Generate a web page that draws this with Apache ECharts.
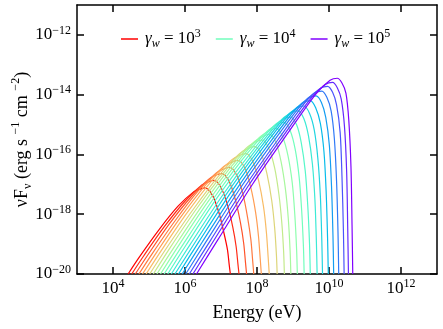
<!DOCTYPE html>
<html>
<head>
<meta charset="utf-8">
<script src="https://cdn.jsdelivr.net/npm/echarts@6/dist/echarts.min.js"></script>
<style>
html, body { margin: 0; padding: 0; background: #fff; }
#chart { width: 443px; height: 329px; }
</style>
</head>
<body>
<div id="chart"></div>
<script>
// spectra, as [log10 E(eV), log10 vFv] pairs, gamma_w from 1e3 (red) to 1e5 (violet)
var c01 = [[4.42,-20],[4.74,-19.42],[5.27,-18.53],[5.80,-17.74],[6.23,-17.26],[6.44,-17.15],[6.55,-17.12],[6.76,-17.36],[6.94,-17.94],[7.08,-18.62],[7.18,-19.19],[7.23,-19.71],[7.26,-20]];
var c02 = [[4.52,-20],[4.86,-19.38],[5.43,-18.41],[6.01,-17.55],[6.46,-17.03],[6.69,-16.90],[6.81,-16.87],[7.01,-17.13],[7.19,-17.73],[7.33,-18.45],[7.42,-19.08],[7.47,-19.66],[7.50,-20]];
var c03 = [[4.62,-20],[4.98,-19.34],[5.58,-18.30],[6.19,-17.39],[6.67,-16.82],[6.91,-16.67],[7.03,-16.64],[7.23,-16.91],[7.40,-17.52],[7.54,-18.28],[7.63,-18.97],[7.68,-19.61],[7.71,-20]];
var c04 = [[4.72,-20],[5.10,-19.30],[5.73,-18.21],[6.36,-17.23],[6.86,-16.63],[7.11,-16.47],[7.24,-16.43],[7.44,-16.70],[7.61,-17.33],[7.74,-18.12],[7.83,-18.85],[7.88,-19.56],[7.91,-20]];
var c05 = [[4.82,-20],[5.22,-19.26],[5.88,-18.10],[6.54,-17.07],[7.07,-16.41],[7.34,-16.24],[7.47,-16.20],[7.67,-16.48],[7.83,-17.12],[7.96,-17.93],[8.04,-18.72],[8.09,-19.50],[8.12,-20]];
var c06 = [[4.92,-20],[5.34,-19.22],[6.03,-18.00],[6.73,-16.90],[7.28,-16.20],[7.56,-16.01],[7.70,-15.97],[7.89,-16.25],[8.05,-16.90],[8.18,-17.74],[8.26,-18.59],[8.31,-19.44],[8.34,-20]];
var c07 = [[5.02,-20],[5.46,-19.18],[6.19,-17.90],[6.92,-16.74],[7.50,-15.99],[7.79,-15.78],[7.94,-15.74],[8.13,-16.02],[8.28,-16.67],[8.41,-17.55],[8.49,-18.45],[8.54,-19.37],[8.56,-20]];
var c08 = [[5.12,-20],[5.57,-19.15],[6.33,-17.80],[7.09,-16.59],[7.70,-15.79],[8.00,-15.56],[8.15,-15.52],[8.33,-15.80],[8.49,-16.45],[8.61,-17.35],[8.69,-18.30],[8.74,-19.26],[8.76,-20]];
var c09 = [[5.22,-20],[5.69,-19.12],[6.47,-17.72],[7.25,-16.46],[7.88,-15.62],[8.19,-15.38],[8.35,-15.33],[8.53,-15.61],[8.67,-16.25],[8.79,-17.16],[8.87,-18.16],[8.92,-19.24],[8.94,-20]];
var c10 = [[5.32,-20],[5.80,-19.09],[6.61,-17.63],[7.41,-16.33],[8.06,-15.44],[8.38,-15.18],[8.54,-15.13],[8.71,-15.41],[8.86,-16.04],[8.98,-16.96],[9.05,-18.01],[9.10,-19.17],[9.12,-20]];
var c11 = [[5.42,-20],[5.92,-19.06],[6.75,-17.55],[7.58,-16.19],[8.25,-15.26],[8.58,-14.98],[8.75,-14.93],[8.92,-15.20],[9.06,-15.82],[9.17,-16.75],[9.24,-17.86],[9.29,-19.09],[9.31,-20]];
var c12 = [[5.52,-20],[6.03,-19.03],[6.88,-17.47],[7.74,-16.08],[8.42,-15.10],[8.76,-14.80],[8.93,-14.75],[9.10,-15.01],[9.23,-15.61],[9.34,-16.55],[9.41,-17.71],[9.46,-19.02],[9.48,-20]];
var c13 = [[5.62,-20],[6.15,-19.00],[7.03,-17.39],[7.91,-15.94],[8.61,-14.92],[8.96,-14.59],[9.14,-14.54],[9.30,-14.80],[9.43,-15.38],[9.54,-16.33],[9.61,-17.54],[9.65,-18.94],[9.67,-20]];
var c14 = [[5.72,-20],[6.26,-18.98],[7.15,-17.33],[8.05,-15.84],[8.76,-14.78],[9.12,-14.44],[9.30,-14.38],[9.46,-14.63],[9.59,-15.18],[9.69,-16.13],[9.76,-17.39],[9.80,-18.86],[9.82,-20]];
var c15 = [[5.82,-20],[6.37,-18.95],[7.28,-17.26],[8.20,-15.72],[8.93,-14.62],[9.30,-14.26],[9.48,-14.20],[9.63,-14.44],[9.76,-14.96],[9.86,-15.91],[9.92,-17.22],[9.96,-18.78],[9.98,-20]];
var c16 = [[5.92,-20],[6.48,-18.93],[7.41,-17.20],[8.34,-15.63],[9.08,-14.48],[9.45,-14.10],[9.64,-14.04],[9.79,-14.26],[9.91,-14.76],[10.01,-15.70],[10.07,-17.06],[10.11,-18.70],[10.13,-20]];
var c17 = [[6.02,-20],[6.59,-18.91],[7.53,-17.14],[8.48,-15.53],[9.23,-14.34],[9.61,-13.94],[9.80,-13.88],[9.94,-14.09],[10.06,-14.55],[10.15,-15.49],[10.21,-16.89],[10.25,-18.61],[10.27,-20]];
var c18 = [[6.12,-20],[6.70,-18.89],[7.66,-17.08],[8.62,-15.44],[9.38,-14.20],[9.77,-13.78],[9.96,-13.72],[10.10,-13.92],[10.21,-14.34],[10.31,-15.27],[10.36,-16.72],[10.40,-18.53],[10.42,-20]];
var c19 = [[6.22,-20],[6.80,-18.88],[7.77,-17.03],[8.74,-15.36],[9.52,-14.09],[9.91,-13.65],[10.10,-13.59],[10.23,-13.77],[10.34,-14.15],[10.43,-15.07],[10.49,-16.57],[10.52,-18.45],[10.54,-20]];
var c20 = [[6.32,-20],[6.91,-18.86],[7.88,-16.99],[8.86,-15.28],[9.64,-13.97],[10.03,-13.52],[10.23,-13.45],[10.36,-13.61],[10.47,-13.95],[10.55,-14.86],[10.61,-16.40],[10.64,-18.36],[10.66,-20]];

var curves = [c01,c02,c03,c04,c05,c06,c07,c08,c09,c10,c11,c12,c13,c14,c15,c16,c17,c18,c19,c20];

var legendCurves = [0, 10, 19];      // which curves carry a legend entry
var legendExps = [3, 4, 5];          // gamma_w = 10^n
var xTickExps = [4, 6, 8, 10, 12];
var yTickExps = [-20, -18, -16, -14, -12];

var serif = '"Liberation Serif", "DejaVu Serif", serif';

// matplotlib "rainbow" colormap, red for the first curve
function rainbow(x) {
    var r = Math.min(1, Math.abs(2 * x - 0.5));
    var g = Math.sin(Math.PI * x);
    var b = Math.cos(Math.PI * x / 2);
    function h(v) { return Math.round(Math.max(0, Math.min(1, v)) * 255); }
    return 'rgb(' + h(r) + ',' + h(g) + ',' + h(b) + ')';
}

var names = curves.map(function (c, i) { return 's' + i; });
var legendText = {};
legendCurves.forEach(function (ci, j) {
    legendText[names[ci]] = '{g|γ}{w|w}{n| = 10}{p|' + legendExps[j] + '}';
});

var series = curves.map(function (c, i) {
    var col = rainbow(1 - i / (curves.length - 1));
    return {
        name: names[i],
        type: 'line',
        data: c,
        symbol: 'none',
        smooth: 0.3,
        lineStyle: { width: 1.2, color: col },
        itemStyle: { color: col }
    };
});

var sup = { fontSize: 12, lineHeight: 12, verticalAlign: 'top', fontFamily: serif, color: '#000' };
var base = { fontSize: 17, lineHeight: 21, fontFamily: serif, color: '#000' };
function pow10(v) { return '{b|10}{s|' + String(v).replace('-', '\u2212') + '}'; }

var frame = { show: true, lineStyle: { color: '#000', width: 1.5 } };

var myChart = echarts.init(document.getElementById('chart'));
option = {
    animation: false,
    backgroundColor: '#fff',
    grid: { left: 77, right: 6, top: 5, bottom: 55, containLabel: false, outerBoundsMode: 'none' },
    legend: {
        data: legendCurves.map(function (i) { return names[i]; }),
        left: 116,
        top: 23,
        icon: 'rect',
        itemWidth: 17,
        itemHeight: 1.5,
        itemGap: 15,
        formatter: function (name) { return legendText[name]; },
        textStyle: {
            fontFamily: serif,
            fontSize: 17,
            color: '#000',
            padding: [0, 0, 0, 2],
            rich: {
                g: { fontStyle: 'italic', fontSize: 17, lineHeight: 22, fontFamily: serif, color: '#000' },
                w: { fontStyle: 'italic', fontSize: 12, lineHeight: 12, verticalAlign: 'bottom', fontFamily: serif, color: '#000' },
                n: { fontSize: 17, lineHeight: 22, fontFamily: serif, color: '#000' },
                p: { fontSize: 12, lineHeight: 12, verticalAlign: 'top', fontFamily: serif, color: '#000' }
            }
        }
    },
    xAxis: [{
        type: 'value',
        min: 3,
        max: 13,
        position: 'bottom',
        axisLine: frame,
        axisTick: { inside: true, length: 7, customValues: xTickExps, lineStyle: { color: '#000', width: 1.5 } },
        axisLabel: { customValues: xTickExps, margin: 4, formatter: pow10, rich: { b: base, s: sup } },
        splitLine: { show: false },
        name: 'Energy (eV)',
        nameLocation: 'middle',
        nameGap: 30,
        nameMoveOverlap: false,
        nameTextStyle: { fontFamily: serif, fontSize: 18, color: '#000' }
    }, {
        type: 'value',
        min: 3,
        max: 13,
        position: 'top',
        axisLine: frame,
        axisTick: { inside: true, length: 7, customValues: xTickExps, lineStyle: { color: '#000', width: 1.5 } },
        axisLabel: { show: false },
        splitLine: { show: false }
    }],
    yAxis: [{
        type: 'value',
        min: -20,
        max: -11,
        position: 'left',
        axisLine: frame,
        axisTick: { inside: true, length: 7, customValues: yTickExps, lineStyle: { color: '#000', width: 1.5 } },
        axisLabel: { customValues: yTickExps, margin: 6, formatter: pow10, rich: { b: base, s: sup } },
        splitLine: { show: false },
        name: '{t|\u03bdF}{sb|\u03bd}{t| (erg s }{sp|\u22121}{t| cm }{sp|\u22122}{t|)}',
        nameLocation: 'middle',
        nameRotate: 90,
        nameGap: 43,
        nameMoveOverlap: false,
        nameTextStyle: {
            fontFamily: serif,
            fontSize: 18,
            color: '#000',
            rich: {
                t: { fontSize: 18, lineHeight: 24, fontFamily: serif, color: '#000' },
                sb: { fontSize: 12, lineHeight: 12, verticalAlign: 'bottom', fontFamily: serif, color: '#000' },
                sp: { fontSize: 12, lineHeight: 12, verticalAlign: 'top', fontFamily: serif, color: '#000' }
            }
        }
    }, {
        type: 'value',
        min: -20,
        max: -11,
        position: 'right',
        axisLine: frame,
        axisTick: { inside: true, length: 7, customValues: yTickExps, lineStyle: { color: '#000', width: 1.5 } },
        axisLabel: { show: false },
        splitLine: { show: false }
    }],
    series: series
};
myChart.setOption(option);
</script>
</body>
</html>
